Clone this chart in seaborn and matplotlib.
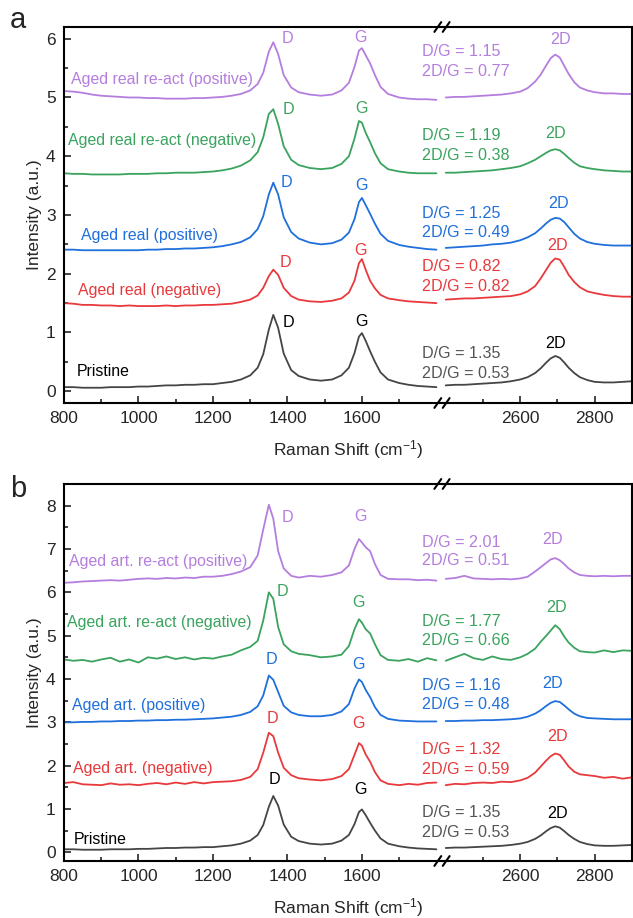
import seaborn as sns
import matplotlib.pyplot as plt
from matplotlib.ticker import MultipleLocator, FixedLocator

sns.set_theme(style="ticks")
plt.rcParams['font.family'] = ['Liberation Sans', 'DejaVu Sans']
plt.rcParams['mathtext.default'] = 'regular'

# shared Raman shift grids (cm-1) for the two halves of the broken axis
XL = [800, 825, 850, 875, 900, 925, 950, 975, 1000, 1025, 1050, 1075, 1100, 1125, 1150, 1175,
      1200, 1225, 1250, 1275, 1300, 1320, 1335, 1350, 1362, 1375, 1390, 1410, 1430, 1460, 1490,
      1520, 1545, 1565, 1580, 1592, 1600, 1610, 1622, 1635, 1650, 1670, 1700, 1725, 1750, 1775, 1800]
XR = [2400, 2425, 2450, 2475, 2500, 2525, 2550, 2575, 2600, 2620, 2640, 2655, 2670, 2682, 2694,
      2706, 2718, 2730, 2745, 2760, 2780, 2800, 2825, 2850, 2875, 2900]

# ---- spectra, panel a / shared pristine
pristine_L = [.07, .07, .06, .06, .06, .07, .07, .07, .08, .08, .09, .10, .10, .11, .11, .12,
              .12, .14, .16, .20, .27, .40, .63, 1.05, 1.30, 1.08, .64, .36, .26, .20, .18,
              .20, .27, .40, .65, .93, .99, .86, .68, .50, .32, .20, .14, .11, .09, .08, .07]
pristine_R = [.10, .11, .11, .12, .13, .14, .15, .17, .20, .24, .31, .39, .49, .56, .60,
              .57, .49, .40, .31, .24, .19, .16, .15, .15, .16, .17]

real_neg_L = [1.50, 1.49, 1.47, 1.47, 1.46, 1.46, 1.45, 1.46, 1.45, 1.45, 1.45, 1.46, 1.45, 1.46, 1.46, 1.47,
              1.47, 1.48, 1.49, 1.52, 1.56, 1.63, 1.76, 1.96, 2.07, 1.98, 1.76, 1.62, 1.56, 1.53, 1.52,
              1.54, 1.58, 1.68, 1.88, 2.18, 2.25, 2.07, 1.88, 1.75, 1.64, 1.58, 1.55, 1.53, 1.52, 1.51, 1.50]
real_neg_R = [1.56, 1.57, 1.58, 1.58, 1.59, 1.60, 1.61, 1.62, 1.65, 1.70, 1.79, 1.92, 2.07, 2.19, 2.26,
              2.24, 2.12, 1.98, 1.86, 1.77, 1.70, 1.67, 1.64, 1.62, 1.61, 1.61]

real_pos_L = [2.41, 2.41, 2.40, 2.40, 2.40, 2.40, 2.40, 2.40, 2.40, 2.41, 2.41, 2.42, 2.42, 2.43, 2.43, 2.44,
              2.45, 2.47, 2.50, 2.54, 2.62, 2.76, 2.98, 3.35, 3.55, 3.35, 2.96, 2.71, 2.60, 2.53, 2.50,
              2.52, 2.58, 2.70, 2.93, 3.22, 3.29, 3.17, 3.02, 2.85, 2.68, 2.56, 2.49, 2.46, 2.44, 2.42, 2.41]
real_pos_R = [2.44, 2.45, 2.46, 2.47, 2.48, 2.50, 2.51, 2.53, 2.57, 2.62, 2.69, 2.77, 2.86, 2.92, 2.95,
              2.94, 2.88, 2.79, 2.68, 2.60, 2.54, 2.51, 2.49, 2.48, 2.48, 2.48]

real_react_neg_L = [3.71, 3.70, 3.70, 3.69, 3.69, 3.69, 3.69, 3.70, 3.70, 3.70, 3.71, 3.71, 3.72, 3.72, 3.72, 3.73,
                    3.74, 3.76, 3.79, 3.84, 3.93, 4.07, 4.32, 4.72, 4.80, 4.55, 4.17, 3.94, 3.85, 3.80, 3.78,
                    3.80, 3.87, 4.00, 4.30, 4.60, 4.57, 4.40, 4.24, 4.05, 3.88, 3.78, 3.74, 3.72, 3.71, 3.71, 3.71]
real_react_neg_R = [3.72, 3.72, 3.73, 3.74, 3.75, 3.76, 3.78, 3.80, 3.83, 3.88, 3.94, 4.00, 4.06, 4.10, 4.12,
                    4.10, 4.04, 3.97, 3.89, 3.83, 3.80, 3.78, 3.76, 3.75, 3.74, 3.74]

real_react_pos_L = [5.11, 5.10, 5.08, 5.05, 5.03, 5.02, 5.01, 5.00, 5.00, 4.99, 4.99, 4.98, 4.98, 4.98, 4.99, 4.99,
                    5.00, 5.01, 5.03, 5.06, 5.12, 5.23, 5.42, 5.78, 5.94, 5.74, 5.38, 5.17, 5.09, 5.05, 5.03,
                    5.05, 5.12, 5.25, 5.52, 5.80, 5.84, 5.72, 5.58, 5.38, 5.18, 5.06, 5.00, 4.98, 4.97, 4.97, 4.96]
real_react_pos_R = [5.00, 5.01, 5.01, 5.02, 5.03, 5.04, 5.05, 5.07, 5.10, 5.16, 5.27, 5.39, 5.55, 5.67, 5.73,
                    5.68, 5.54, 5.40, 5.26, 5.17, 5.12, 5.09, 5.07, 5.07, 5.06, 5.06]

# ---- spectra, panel b
art_neg_L = [1.60, 1.62, 1.57, 1.56, 1.55, 1.59, 1.56, 1.57, 1.55, 1.58, 1.60, 1.57, 1.61, 1.58, 1.62, 1.59,
             1.62, 1.63, 1.64, 1.67, 1.74, 1.92, 2.30, 2.76, 2.68, 2.30, 1.95, 1.78, 1.71, 1.68, 1.66,
             1.69, 1.76, 1.92, 2.25, 2.52, 2.46, 2.26, 2.09, 1.85, 1.66, 1.58, 1.55, 1.58, 1.56, 1.60, 1.61]
art_neg_R = [1.55, 1.58, 1.57, 1.60, 1.61, 1.60, 1.63, 1.62, 1.66, 1.72, 1.84, 1.98, 2.12, 2.22, 2.28,
             2.25, 2.12, 1.98, 1.86, 1.80, 1.78, 1.76, 1.72, 1.74, 1.70, 1.73]

art_pos_L = [3.00, 3.00, 3.01, 3.01, 3.02, 3.02, 3.03, 3.03, 3.04, 3.04, 3.05, 3.05, 3.06, 3.06, 3.07, 3.08,
             3.09, 3.11, 3.13, 3.17, 3.24, 3.37, 3.62, 4.08, 3.98, 3.70, 3.38, 3.23, 3.17, 3.14, 3.14,
             3.17, 3.25, 3.42, 3.78, 3.99, 3.93, 3.75, 3.58, 3.35, 3.17, 3.08, 3.04, 3.03, 3.02, 3.02, 3.02]
art_pos_R = [3.03, 3.03, 3.04, 3.04, 3.05, 3.05, 3.06, 3.07, 3.09, 3.13, 3.20, 3.28, 3.38, 3.45, 3.49,
             3.47, 3.39, 3.30, 3.20, 3.14, 3.10, 3.09, 3.08, 3.07, 3.07, 3.07]

art_react_neg_L = [4.45, 4.42, 4.44, 4.40, 4.45, 4.49, 4.40, 4.45, 4.38, 4.50, 4.47, 4.52, 4.46, 4.50, 4.45, 4.49,
                   4.47, 4.52, 4.56, 4.66, 4.74, 4.88, 5.35, 6.00, 5.85, 5.20, 4.80, 4.64, 4.58, 4.55, 4.50,
                   4.52, 4.56, 4.76, 5.15, 5.38, 5.30, 5.15, 5.05, 4.80, 4.55, 4.44, 4.42, 4.46, 4.40, 4.48, 4.43]
art_react_neg_R = [4.42, 4.50, 4.58, 4.48, 4.44, 4.52, 4.46, 4.44, 4.50, 4.58, 4.70, 4.86, 5.00, 5.12, 5.24,
                   5.15, 4.98, 4.84, 4.72, 4.64, 4.62, 4.61, 4.66, 4.62, 4.66, 4.65]

art_react_pos_L = [6.22, 6.23, 6.25, 6.26, 6.27, 6.28, 6.27, 6.29, 6.31, 6.32, 6.31, 6.33, 6.32, 6.34, 6.33, 6.36,
                   6.36, 6.38, 6.42, 6.48, 6.58, 6.85, 7.45, 8.02, 7.70, 6.95, 6.55, 6.38, 6.34, 6.38, 6.36,
                   6.40, 6.46, 6.62, 7.00, 7.23, 7.15, 7.04, 6.95, 6.65, 6.40, 6.31, 6.30, 6.30, 6.28, 6.29, 6.27]
art_react_pos_R = [6.31, 6.33, 6.38, 6.32, 6.31, 6.30, 6.31, 6.30, 6.32, 6.36, 6.48, 6.58, 6.68, 6.76, 6.79,
                   6.74, 6.65, 6.55, 6.46, 6.40, 6.38, 6.37, 6.38, 6.37, 6.38, 6.38]

PURPLE, GREEN, BLUE, RED, GREY = '#b57ede', '#3aa35e', '#1f6fdc', '#e8393c', '#454545'

names_a = ['Pristine', 'Aged real (negative)', 'Aged real (positive)',
           'Aged real re-act (negative)', 'Aged real re-act (positive)']
names_b = ['Pristine', 'Aged art. (negative)', 'Aged art. (positive)',
           'Aged art. re-act (negative)', 'Aged art. re-act (positive)']
ratios_a = [('1.35', '0.53'), ('0.82', '0.82'), ('1.25', '0.49'), ('1.19', '0.38'), ('1.15', '0.77')]
ratios_b = [('1.35', '0.53'), ('1.32', '0.59'), ('1.16', '0.48'), ('1.77', '0.66'), ('2.01', '0.51')]
colors = [GREY, RED, BLUE, GREEN, PURPLE]

spectra_a = [(pristine_L, pristine_R), (real_neg_L, real_neg_R), (real_pos_L, real_pos_R),
             (real_react_neg_L, real_react_neg_R), (real_react_pos_L, real_react_pos_R)]
spectra_b = [(pristine_L, pristine_R), (art_neg_L, art_neg_R), (art_pos_L, art_pos_R),
             (art_react_neg_L, art_react_neg_R), (art_react_pos_L, art_react_pos_R)]

# label placement: (name x, name y), (D x, D y), (G x, G y), (ratio y1, ratio y2), (2D x, 2D y)
place_a = [((835, 0.33), (1403, 1.17), (1600, 1.19), (0.65, 0.31), (2694, 0.82)),
           ((838, 1.71), (1395, 2.19), (1597, 2.39), (2.12, 1.78), (2700, 2.48)),
           ((846, 2.65), (1396, 3.55), (1600, 3.50), (3.02, 2.70), (2702, 3.20)),
           ((811, 4.26), (1403, 4.80), (1600, 4.82), (4.36, 4.02), (2694, 4.38)),
           ((819, 5.30), (1401, 6.00), (1597, 6.02), (5.78, 5.45), (2707, 5.98))]
place_b = [((827, 0.30), (1366, 1.68), (1597, 1.45), (0.92, 0.46), (2700, 0.90)),
           ((824, 1.93), (1361, 3.09), (1592, 2.97), (2.37, 1.91), (2700, 2.67)),
           ((821, 3.39), (1358, 4.45), (1590, 4.33), (3.85, 3.41), (2688, 3.90)),
           ((808, 5.30), (1387, 6.01), (1590, 5.76), (5.32, 4.88), (2697, 5.65)),
           ((813, 6.70), (1399, 7.72), (1595, 7.74), (7.16, 6.73), (2686, 7.23))]

fig = plt.figure(figsize=(6.33, 9.18), dpi=100)


def panel(bottom, height, spectra, names, ratios, places, ymax, letter, letter_y, xlabel_y):
    axL = fig.add_axes([64 / 633, bottom, 378 / 633, height])
    axR = fig.add_axes([442 / 633, bottom, 190 / 633, height])
    for ax in (axL, axR):
        ax.patch.set_alpha(0)
        ax.set_ylim(-0.2, ymax)
        ax.tick_params(direction='in', labelsize=12.5, width=1.2, length=5, pad=6)
        ax.tick_params(which='minor', direction='in', width=1.2, length=3)
        for s in ax.spines.values():
            s.set_linewidth(1.5)
            s.set_color('black')
    axL.set_xlim(800, 1815)
    axR.set_xlim(2390, 2900)
    axL.spines['right'].set_visible(False)
    axR.spines['left'].set_visible(False)
    axR.tick_params(axis='y', which='both', left=False, labelleft=False)
    axL.xaxis.set_major_locator(FixedLocator([800, 1000, 1200, 1400, 1600]))
    axL.xaxis.set_minor_locator(FixedLocator([900, 1100, 1300, 1500, 1700]))
    axR.set_xticks([2600, 2800])
    axR.set_xticks([2500, 2700], minor=True)
    axL.yaxis.set_major_locator(MultipleLocator(1))
    axL.yaxis.set_minor_locator(MultipleLocator(0.5))
    axL.set_ylabel('Intensity (a.u.)', fontsize=12.5, labelpad=3)

    for (yl, yr), name, (dg, tdg), pl, c in zip(spectra, names, ratios, places, colors):
        sns.lineplot(x=XL, y=yl, ax=axL, color=c, lw=1.3, sort=False)
        sns.lineplot(x=XR, y=yr, ax=axR, color=c, lw=1.3, sort=False)
        tc = 'black' if c == GREY else c
        rc = '#555555' if c == GREY else c
        axL.text(pl[0][0], pl[0][1], name, color=tc, fontsize=11.4, ha='left', va='center')
        axL.text(pl[1][0], pl[1][1], 'D', color=tc, fontsize=11.6, ha='center', va='center')
        axL.text(pl[2][0], pl[2][1], 'G', color=tc, fontsize=11.6, ha='center', va='center')
        axL.text(1762, pl[3][0], f'D/G = {dg}', color=rc, fontsize=11.6, ha='left', va='center', clip_on=False)
        axL.text(1762, pl[3][1], f'2D/G = {tdg}', color=rc, fontsize=11.6, ha='left', va='center', clip_on=False)
        axR.text(pl[4][0], pl[4][1], '2D', color=tc, fontsize=11.6, ha='center', va='center')

    # break marks on the top and bottom spines
    for yb in (0, 1):
        for dx in (-0.022, 0.022):
            axR.plot([dx - 0.018, dx + 0.018], [yb - 0.013, yb + 0.013], transform=axR.transAxes,
                     color='black', lw=1.5, clip_on=False)

    fig.text(348 / 633, xlabel_y, 'Raman Shift (cm$^{-1}$)', fontsize=12.5, ha='center', va='center')
    fig.text(0.016, letter_y, letter, fontsize=21, ha='left', va='baseline')


panel(0.561, 0.4096, spectra_a, names_a, ratios_a, place_a, 6.2, 'a', 0.9695, 0.5098)
panel(0.0621, 0.4107, spectra_b, names_b, ratios_b, place_b, 8.5, 'b', 0.4586, 0.0109)

fig.savefig('out.png', dpi=100)
